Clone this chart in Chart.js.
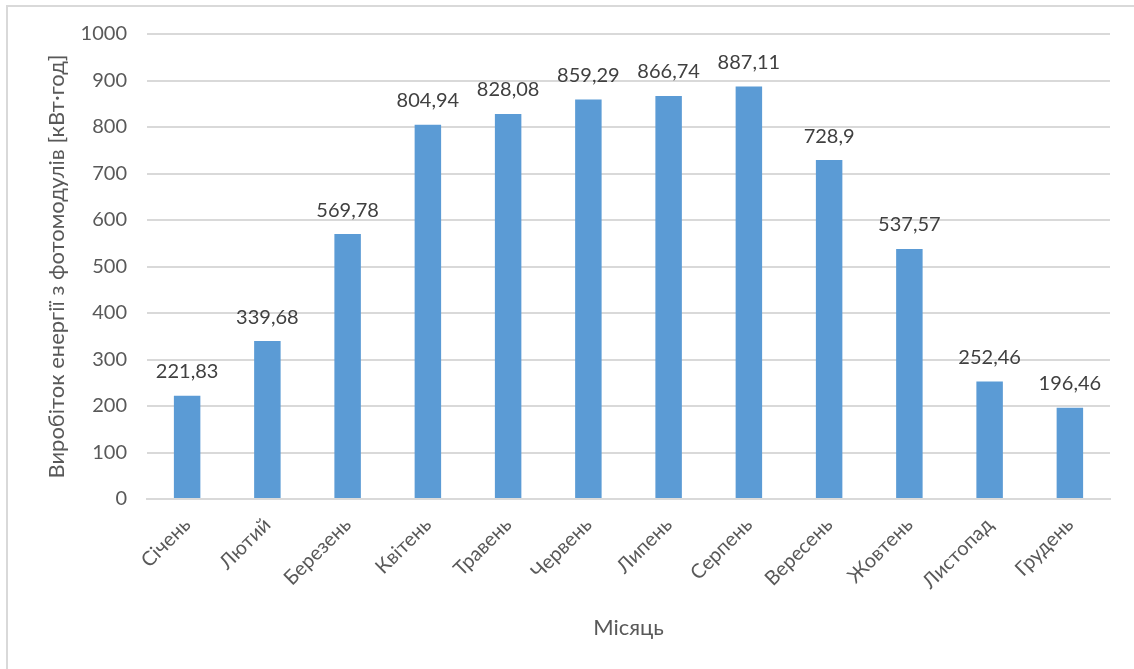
<!DOCTYPE html>
<html lang="uk">
<head>
  <meta charset="UTF-8">
  <title>Виробіток енергії</title>
  <script src="https://cdn.jsdelivr.net/npm/chart.js"></script>
  <style>
    html, body { margin: 0; padding: 0; background: #fff; overflow: hidden; }
    #frame {
      position: absolute; left: 6px; top: 5px;
      width: 1200px; height: 700px;
      border: 2px solid #d9d9d9;
    }
    #energyChart { position: absolute; left: 0; top: 0; }
  </style>
</head>
<body>
  <div id="frame"></div>
  <canvas id="energyChart" width="1134" height="669"></canvas>

  <script>
    // Місячний виробіток фотомодулів, кВт·год
    const months = ['Січень', 'Лютий', 'Березень', 'Квітень', 'Травень', 'Червень',
                    'Липень', 'Серпень', 'Вересень', 'Жовтень', 'Листопад', 'Грудень'];
    const energy = [221.83, 339.68, 569.78, 804.94, 828.08, 859.29,
                    866.74, 887.11, 728.9, 537.57, 252.46, 196.46];
    const yTicks = { min: 0, max: 1000, step: 100 };

    const textColor = '#595959';
    const font = { family: 'Lato', size: 20 };
    const titleFont = { family: 'Lato', size: 22 };

    // підписи значень над стовпцями
    const valueLabels = {
      id: 'valueLabels',
      afterDatasetsDraw(chart) {
        const ctx = chart.ctx;
        const meta = chart.getDatasetMeta(0);
        ctx.save();
        ctx.font = '20px Lato';
        ctx.fillStyle = '#404040';
        ctx.textAlign = 'center';
        ctx.textBaseline = 'bottom';
        meta.data.forEach((bar, i) => {
          const txt = String(energy[i]).replace('.', ',');
          ctx.fillText(txt, bar.x, bar.y - 14);
        });
        ctx.restore();
      }
    };

    new Chart(document.getElementById('energyChart'), {
      type: 'bar',
      data: {
        labels: months,
        datasets: [{
          data: energy,
          backgroundColor: '#5b9bd5',
          barPercentage: 0.33,
          categoryPercentage: 1
        }]
      },
      options: {
        responsive: false,
        animation: false,
        layout: { padding: { left: 44, top: 34, right: 24, bottom: 28 } },
        plugins: { legend: { display: false }, tooltip: { enabled: false } },
        scales: {
          x: {
            afterFit(scale) { scale.height = 142; },
            grid: { display: false, drawTicks: false },
            border: { color: '#d9d9d9', width: 2 },
            ticks: { color: textColor, font: font, minRotation: 45, maxRotation: 45, padding: 14 },
            title: { display: true, text: 'Місяць', color: textColor, font: titleFont, padding: 0 }
          },
          y: {
            min: yTicks.min,
            max: yTicks.max,
            afterFit(scale) { scale.width = 103; },
            grid: { color: '#d9d9d9', lineWidth: 2, drawTicks: false },
            border: { display: false },
            ticks: {
              stepSize: yTicks.step, color: textColor, font: font, padding: 20,
              callback: (v) => String(v)
            },
            title: {
              display: true,
              text: 'Виробіток енергії з фотомодулів [кВт·год]',
              color: textColor, font: titleFont, padding: 0
            }
          }
        }
      },
      plugins: [valueLabels]
    });
  </script>
</body>
</html>
